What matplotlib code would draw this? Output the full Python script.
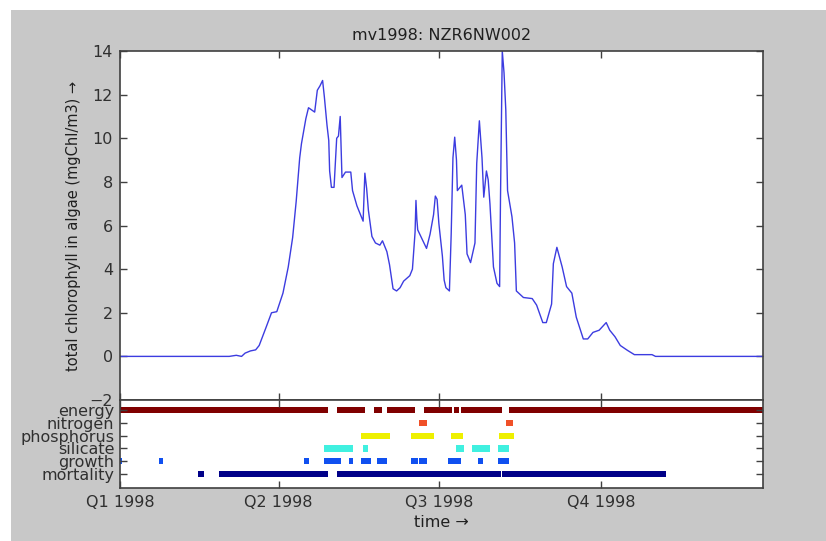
import matplotlib.pyplot as plt
from matplotlib.patches import Rectangle

# daily total chlorophyll, day of year 1998 -> mgChl/m3
day = [0, 62, 66, 69, 71, 74, 77, 79, 83, 86, 89, 92.5, 95.5, 98, 100, 102, 103,
       105.5, 107, 110.5, 112, 113.5, 115, 116, 117.5, 118.5, 119, 120, 121.5,
       123, 124, 125, 126, 128, 131, 132, 134.5, 137, 138, 139, 140, 141, 143,
       145, 147.5, 149, 151.5, 153, 155, 157, 159, 161, 164.5, 166, 167.5, 168,
       168.5, 169, 174, 176, 178, 179, 180, 181, 183, 184, 185, 187, 188, 189,
       190, 191, 191.5, 194, 196, 197, 199, 201.5, 202.5, 204, 205.5, 206.5,
       208, 209, 210, 212, 214, 215.5, 216, 217, 218, 219, 220, 222.5, 224,
       225, 229, 234, 236.5, 240, 242, 245, 246, 248, 251, 253.5, 256.5, 259,
       263, 265.5, 268.5, 272, 276, 278, 281, 284, 288, 292, 302, 304, 365]
chl = [0, 0, 0.05, 0.0, 0.15, 0.25, 0.3, 0.5, 1.35, 2.0, 2.05, 2.9, 4.1, 5.45,
       7.1, 9.1, 9.75, 10.9, 11.4, 11.2, 12.2, 12.4, 12.65, 11.9, 10.6, 9.9,
       8.5, 7.75, 7.75, 10.0, 10.1, 11.0, 8.2, 8.45, 8.45, 7.6, 6.9, 6.4, 6.2,
       8.4, 7.7, 6.7, 5.5, 5.2, 5.1, 5.3, 4.8, 4.2, 3.1, 3.0, 3.15, 3.45, 3.7,
       4.0, 5.7, 7.15, 6.3, 5.8, 4.95, 5.6, 6.5, 7.35, 7.2, 6.1, 4.6, 3.5, 3.15,
       3.0, 5.6, 9.1, 10.05, 9.0, 7.6, 7.85, 6.5, 4.7, 4.3, 5.2, 8.85, 10.8,
       9.1, 7.3, 8.5, 8.1, 7.0, 4.1, 3.35, 3.2, 7.3, 14.0, 13.0, 11.3, 7.6,
       6.4, 5.2, 3.0, 2.7, 2.65, 2.35, 1.55, 1.55, 2.4, 4.25, 5.0, 4.1, 3.2,
       2.9, 1.8, 0.8, 0.8, 1.1, 1.2, 1.55, 1.2, 0.9, 0.5, 0.28, 0.08, 0.08,
       0.0, 0.0]

quarter_days = [0, 90, 181, 273]
quarter_labels = ['Q1 1998', 'Q2 1998', 'Q3 1998', 'Q4 1998']

# limiting processes: periods (start day, end day) when each one is active
processes = ['energy', 'nitrogen', 'phosphorus', 'silicate', 'growth', 'mortality']
energy = [(0, 118), (123, 139), (144, 149), (151.5, 167.5), (172.5, 188.5),
          (189.5, 192.5), (193.5, 217), (221, 366)]
nitrogen = [(170, 174), (219, 223)]
phosphorus = [(137, 153), (165, 178), (188, 194.5), (215, 223.5)]
silicate = [(116, 132), (138, 141), (190.5, 195), (200, 210), (214.5, 221)]
growth = [(0, 1), (22, 24.5), (104.5, 107), (116, 125.5), (130, 132),
          (137, 142.5), (146, 151.5), (165, 169), (170, 174), (186, 193.5),
          (203, 206), (214.5, 221)]
mortality = [(44, 47.5), (56, 118), (123, 216), (217, 310)]
periods = [energy, nitrogen, phosphorus, silicate, growth, mortality]
colors = ['#800000', '#f05028', '#eef000', '#40f0e0', '#1050f0', '#000088']

fs = 11.5
edge = '#404040'
plt.rcParams['font.family'] = 'DejaVu Sans'

fig = plt.figure(figsize=(8.26, 5.41), dpi=100, facecolor='#c8c8c8')
# white margin at top and left
fig.patches.append(Rectangle((0, 0), 11 / 826, 1, transform=fig.transFigure,
                             facecolor='white', edgecolor='none', zorder=0))
fig.patches.append(Rectangle((0, 1 - 10 / 541), 1, 10 / 541, transform=fig.transFigure,
                             facecolor='white', edgecolor='none', zorder=0))

ax = fig.add_axes([0.1453, 0.2606, 0.7784, 0.6451])
ax2 = fig.add_axes([0.1453, 0.098, 0.7784, 0.1626])

ax.plot(day, chl, color='#3c3ce0', lw=1.0)
ax.set_xlim(0, 365)
ax.set_ylim(-2, 14)
ax.set_yticks(range(-2, 15, 2))
ax.set_xticks(quarter_days)
ax.set_xticklabels([])
ax.set_title('mv1998: NZR6NW002', fontsize=fs, color='#202020', pad=8)
ax.set_ylabel('total chlorophyll in algae (mgChl/m3) \u2192', fontsize=10.5,
              color='#202020', labelpad=6)

for i, segs in enumerate(periods):
    ax2.broken_barh([(a, b - a) for a, b in segs], (i + 1 - 0.25, 0.5),
                    facecolors=colors[i], edgecolor='none')
ax2.set_xlim(0, 365)
ax2.set_ylim(7.1, 0.2)
ax2.set_yticks(range(1, 7))
ax2.set_yticklabels(processes)
ax2.set_xticks(quarter_days)
ax2.set_xticklabels(quarter_labels)
ax2.set_xlabel('time \u2192', fontsize=fs, color='#202020', labelpad=4)

for a in (ax, ax2):
    a.set_facecolor('white')
    a.tick_params(direction='in', length=5, width=1, colors=edge,
                  labelcolor='#303030', labelsize=fs,
                  top=True, right=True, pad=5)
    for s in a.spines.values():
        s.set_color(edge)
        s.set_linewidth(1.2)
ax2.tick_params(axis='y', pad=4)
for t in ax2.get_yticklabels():
    t.set_linespacing(0.8)

fig.savefig('out.png', dpi=100, facecolor=fig.get_facecolor())
